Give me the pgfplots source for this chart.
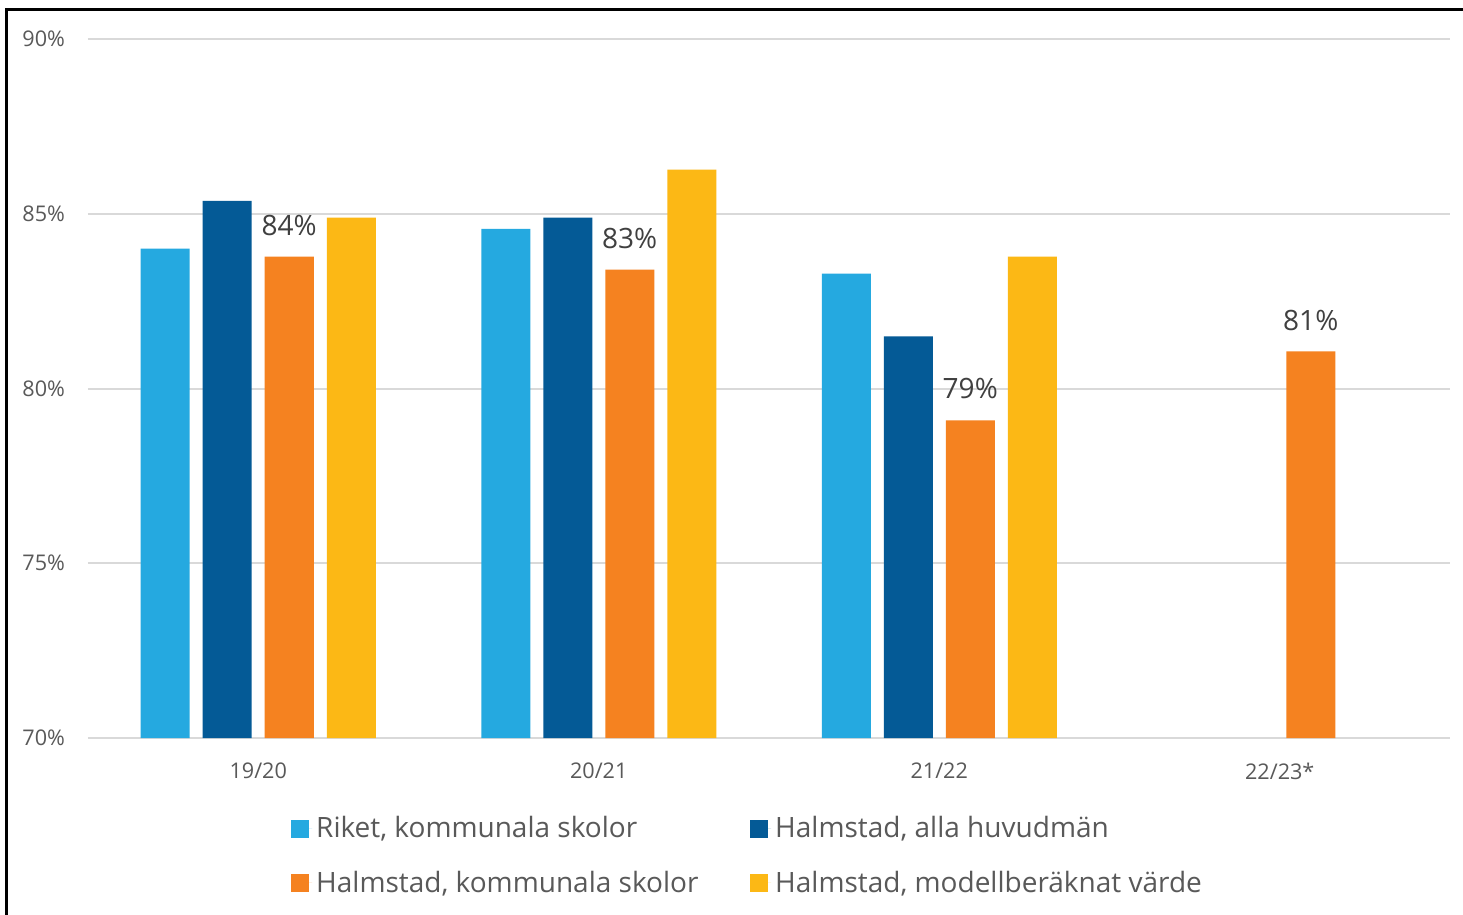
\documentclass[border=0pt]{standalone}
\usepackage{fontspec}
\setmainfont{Open Sans}
\usepackage{pgfplots}
\pgfplotsset{compat=1.18}
\definecolor{cLB}{RGB}{37,169,224}
\definecolor{cDB}{RGB}{4,90,150}
\definecolor{cOR}{RGB}{245,130,32}
\definecolor{cYE}{RGB}{252,184,21}
\definecolor{gridc}{RGB}{217,217,217}
\definecolor{textc}{RGB}{89,89,89}
\definecolor{labc}{RGB}{64,64,64}
\begin{document}
\begin{tikzpicture}
\useasboundingbox (0,0) rectangle (731.5pt,-457.5pt);
\fill[white] (0,0) rectangle (731.5pt,-457.5pt);
\draw[black,line width=1.5pt] (3pt,-458pt) -- (3pt,-5pt) -- (732pt,-5pt);
\begin{axis}[
  at={(44pt,-369pt)}, anchor=south west,
  scale only axis, width=681pt, height=349.5pt,
  xmin=-0.5, xmax=3.5, ymin=70, ymax=90,
  ytick={70,75,80,85,90},
  xtick={0,1,2,3},
  xticklabels={19/20,20/21,21/22,22/23*},
  yticklabel={\pgfmathprintnumber{\tick}\%},
  /pgf/number format/assume math mode=true,
  ymajorgrids, grid style={draw=gridc, line width=1pt},
  axis line style={draw=none},
  major tick length=0pt,
  xticklabel style={font=\fontsize{10.8}{12}\selectfont, text=textc, yshift=-9pt},
  yticklabel style={font=\fontsize{10.8}{12}\selectfont, text=textc, xshift=-8pt},
  ybar=6.5pt, bar width=24.5pt,
  legend columns=2,
  legend style={at={(0.485,-0.106)}, anchor=north, draw=none, fill=none,
    font=\fontsize{14}{16}\selectfont, text=textc,
    /tikz/every even column/.append style={column sep=0pt},
    row sep=11pt, inner sep=0pt},
  legend cell align=left,
  legend image code/.code={\path (0pt,0pt) -- (10.5pt,0pt); \fill[#1] (0pt,-4.5pt) rectangle (9pt,4.5pt);},
]
\addplot[fill=cLB, draw=none] coordinates {(0,84.0) (1,84.57) (2,83.29)};
\addlegendentry{\makebox[215pt][l]{Riket, kommunala skolor}}
\addplot[fill=cDB, draw=none] coordinates {(0,85.37) (1,84.89) (2,81.49)};
\addlegendentry{Halmstad, alla huvudmän}
\addplot[fill=cOR, draw=none,
  nodes near coords={\pgfmathprintnumber[fixed,precision=0]{\pgfplotspointmeta}\%},
  every node near coord/.append style={font=\fontsize{14}{16}\selectfont, text=labc, yshift=7pt}
  ] coordinates {(0,83.77) (1,83.4) (2,79.09) (3,81.06)};
\addlegendentry{\makebox[215pt][l]{Halmstad, kommunala skolor}}
\addplot[fill=cYE, draw=none] coordinates {(0,84.89) (1,86.26) (2,83.77)};
\addlegendentry{Halmstad, modellberäknat värde}
\end{axis}
\end{tikzpicture}
\end{document}
